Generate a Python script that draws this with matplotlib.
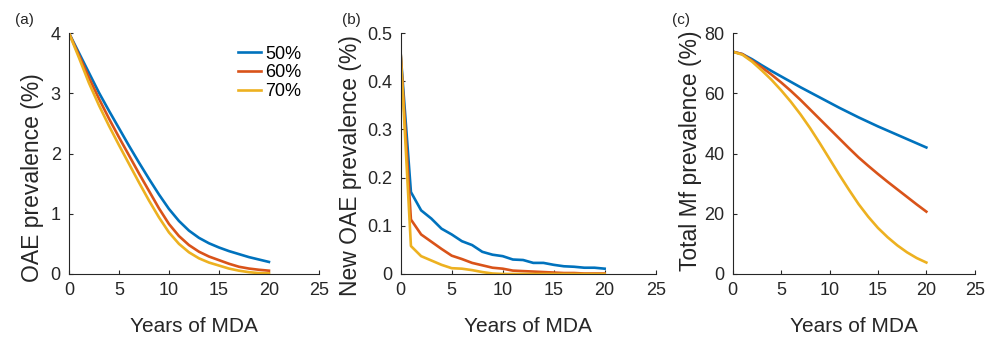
import matplotlib
matplotlib.use('Agg')
from matplotlib import pyplot as plt
from matplotlib.ticker import FuncFormatter
import numpy as np

plt.rcParams['font.family'] = ['Liberation Sans', 'DejaVu Sans']

years = np.arange(0, 21)
coverage = ['50%', '60%', '70%']
colors = ['#0072BD', '#D95319', '#EDB120']

# (a) OAE prevalence (%)
oae_50 = [4.0, 3.67, 3.34, 3.01, 2.71, 2.42, 2.13, 1.85, 1.58, 1.32, 1.08,
          0.88, 0.72, 0.60, 0.51, 0.44, 0.38, 0.33, 0.28, 0.24, 0.20]
oae_60 = [4.0, 3.63, 3.26, 2.91, 2.58, 2.27, 1.97, 1.67, 1.38, 1.09, 0.83,
          0.63, 0.48, 0.37, 0.29, 0.23, 0.17, 0.12, 0.09, 0.07, 0.055]
oae_70 = [4.0, 3.59, 3.17, 2.80, 2.46, 2.14, 1.83, 1.52, 1.22, 0.94, 0.69,
          0.50, 0.36, 0.26, 0.19, 0.14, 0.09, 0.055, 0.03, 0.015, 0.01]

# (b) new OAE prevalence (%)
new_50 = [0.455, 0.170, 0.132, 0.115, 0.094, 0.082, 0.068, 0.060, 0.046, 0.040, 0.037,
          0.030, 0.029, 0.023, 0.023, 0.019, 0.016, 0.015, 0.013, 0.013, 0.011]
new_60 = [0.455, 0.113, 0.082, 0.067, 0.052, 0.038, 0.031, 0.023, 0.018, 0.013, 0.011,
          0.007, 0.006, 0.005, 0.004, 0.003, 0.002, 0.002, 0.001, 0.001, 0.001]
new_70 = [0.455, 0.058, 0.037, 0.028, 0.019, 0.012, 0.011, 0.008, 0.004, 0.001, 0.0,
          0.0, 0.0, 0.0, 0.0, 0.0, 0.0, 0.0, 0.0, 0.0, 0.0]

# (c) total Mf prevalence (%)
mf_50 = [73.8, 73.0, 71.3, 69.3, 67.4, 65.6, 63.8, 62.0, 60.3, 58.6, 56.9,
         55.2, 53.6, 52.0, 50.5, 49.0, 47.6, 46.2, 44.8, 43.4, 42.0]
mf_60 = [73.8, 73.0, 70.8, 68.6, 66.2, 63.6, 60.8, 57.8, 54.6, 51.4, 48.2,
         45.0, 41.8, 38.7, 35.9, 33.2, 30.6, 28.1, 25.6, 23.1, 20.7]
mf_70 = [73.8, 72.8, 70.5, 67.6, 64.5, 61.0, 57.2, 53.0, 48.4, 43.4, 38.2,
         33.0, 28.0, 23.2, 19.0, 15.3, 12.2, 9.5, 7.2, 5.3, 3.8]

panels = [
    ('(a)', 'OAE prevalence (%)', [oae_50, oae_60, oae_70], (0, 4), [0, 1, 2, 3, 4]),
    ('(b)', 'New OAE prevalence (%)', [new_50, new_60, new_70], (0, 0.5), [0, 0.1, 0.2, 0.3, 0.4, 0.5]),
    ('(c)', 'Total Mf prevalence (%)', [mf_50, mf_60, mf_70], (0, 80), [0, 20, 40, 60, 80]),
]
rects = [[0.0698, 0.187, 0.253, 0.715],
         [0.4056, 0.187, 0.258, 0.715],
         [0.7416, 0.187, 0.245, 0.715]]
tag_x = [0.015, 0.346, 0.680]
ylab_pos = [(32, 0.40), (350, 0.45), (691, 0.51)]   # x pixel centre, y axes fraction

fig = plt.figure(figsize=(9.88, 3.37), dpi=100)
axc = '#262626'
for (tag, ylab, series, ylim, yt), r, tx, (yx, yy) in zip(panels, rects, tag_x, ylab_pos):
    ax = fig.add_axes(r)
    for s, c, lab in zip(series, colors, coverage):
        ax.plot(years, s, color=c, lw=1.9, label=lab)
    ax.set_xlim(0, 25)
    ax.set_ylim(*ylim)
    ax.set_xticks([0, 5, 10, 15, 20, 25])
    ax.set_yticks(yt)
    ax.yaxis.set_major_formatter(FuncFormatter(lambda v, p: '%g' % v))
    for sp in ['top', 'right']:
        ax.spines[sp].set_visible(False)
    for sp in ['left', 'bottom']:
        ax.spines[sp].set_color(axc)
        ax.spines[sp].set_linewidth(0.8)
    ax.tick_params(direction='in', length=3, width=0.8, color=axc,
                   labelsize=13, labelcolor=axc, pad=6)
    ax.set_xlabel('Years of MDA', fontsize=15, color=axc, labelpad=13)
    ax.set_ylabel(ylab, fontsize=16.5, color=axc)
    ax.yaxis.label.set_va('center')
    ax.yaxis.set_label_coords((yx / 988 - r[0]) / r[2], yy)
    fig.text(tx, 0.94, tag, fontsize=11, color=axc, va='center')
    if tag == '(a)':
        ax.legend(loc='upper left', bbox_to_anchor=(0.64, 0.985), frameon=False,
                  fontsize=13, handlelength=1.3, handletextpad=0.2,
                  labelspacing=0.1, borderpad=0.0)

fig.savefig('out.png', dpi=100)
